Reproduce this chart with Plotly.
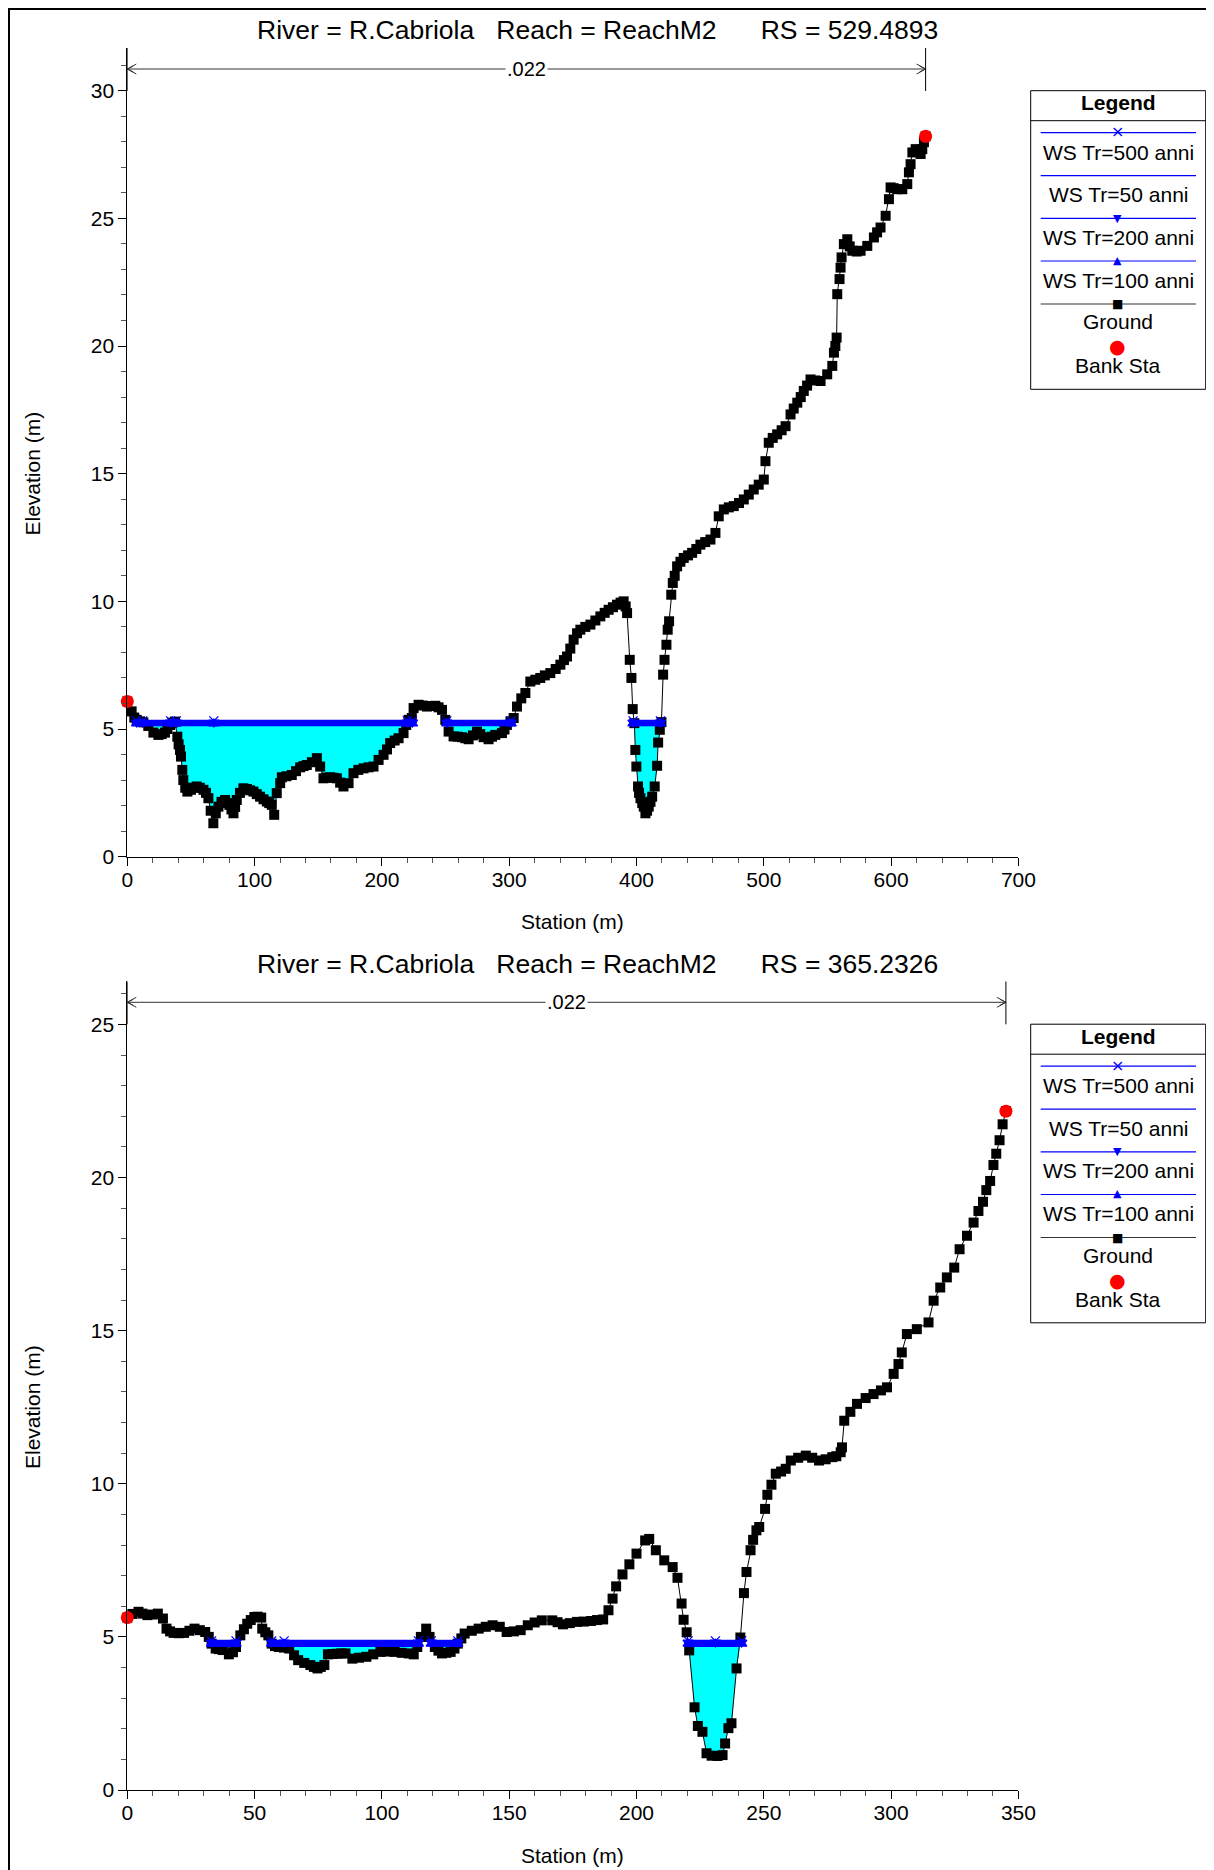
import numpy as np
import plotly.graph_objects as go

# ---------------- data ----------------
top_station = [0.0, 3.4, 5.5, 7.4, 10.0, 12.6, 16.5, 20.5, 24.4, 27.0, 29.6, 31.5, 33.6, 35.5, 37.5,
               39.3, 40.3, 41.4, 42.2, 43.2, 44.0, 45.5, 47.2, 50.0, 52.5, 54.5, 57.0, 59.8, 61.8, 63.7,
               65.5, 67.6, 69.5, 71.6, 74.0, 76.8, 78.5, 80.2, 81.8, 83.4, 84.7, 86.0, 88.5, 91.2, 94.0,
               96.5, 99.1, 101.7, 104.3, 107.0, 109.6, 111.5, 113.5, 115.4, 117.4, 120.1, 121.4, 125.0,
               129.2, 132.5, 135.8, 138.5, 141.0, 145.0, 148.9, 151.5, 154.1, 156.8, 159.4, 162.0, 164.6,
               167.2, 169.8, 173.8, 177.7, 181.5, 185.6, 189.5, 193.4, 197.4, 201.3, 204.0, 206.5, 210.0,
               213.1, 217.0, 219.1, 220.9, 223.5, 224.9, 228.8, 232.0, 235.4, 238.5, 241.9, 244.5, 247.2,
               249.8, 252.4, 256.3, 259.5, 262.9, 265.5, 268.1, 271.5, 274.7, 277.3, 279.9, 283.8, 286.5,
               289.1, 294.3, 296.3, 298.2, 301.0, 303.5, 306.1, 309.5, 312.7, 316.6, 320.5, 324.4, 328.0,
               332.3, 336.5, 340.2, 343.0, 345.4, 348.0, 350.6, 353.3, 355.9, 359.8, 363.8, 367.7, 371.6,
               375.0, 378.1, 381.5, 384.7, 387.5, 389.9, 391.5, 392.6, 394.7, 396.0, 397.0, 398.3, 399.1,
               399.9, 401.2, 402.0, 403.1, 404.5, 405.7, 407.0, 408.3, 409.6, 411.0, 412.3, 414.3, 416.2,
               417.0, 418.3, 419.6, 420.9, 422.0, 423.5, 424.5, 425.6, 427.3, 428.5, 430.0, 431.9, 434.5,
               437.1, 440.5, 443.7, 447.0, 450.2, 454.0, 458.1, 462.0, 464.6, 468.6, 472.5, 476.4, 480.5,
               484.3, 488.2, 492.1, 496.0, 500.0, 501.3, 503.9, 507.0, 510.5, 514.0, 517.1, 521.0, 523.5,
               526.3, 529.0, 531.4, 534.0, 536.7, 540.5, 544.6, 549.8, 553.8, 555.1, 556.2, 557.2, 557.7,
               559.5, 560.3, 561.1, 562.9, 565.6, 567.5, 569.5, 573.0, 576.0, 581.3, 586.5, 589.0, 591.7,
               595.7, 598.3, 599.6, 602.0, 604.9, 608.8, 612.7, 614.0, 615.3, 616.7, 619.3, 621.5, 623.2,
               624.5, 625.8, 627.1]
top_elev = [6.08, 5.69, 5.45, 5.36, 5.30, 5.26, 5.12, 4.86, 4.77, 4.80, 4.86, 5.00, 5.16, 5.25, 5.29,
            4.70, 4.40, 4.18, 3.92, 3.40, 3.00, 2.70, 2.55, 2.62, 2.70, 2.75, 2.70, 2.62, 2.50, 2.29,
            1.80, 1.31, 1.70, 1.96, 2.15, 2.22, 2.10, 2.03, 1.85, 1.70, 1.95, 2.22, 2.50, 2.68, 2.65,
            2.60, 2.55, 2.45, 2.35, 2.25, 2.16, 2.10, 2.03, 1.64, 2.49, 2.88, 3.11, 3.15,
            3.20, 3.35, 3.50, 3.55, 3.59, 3.70, 3.86, 3.53, 3.07, 3.10, 3.11, 3.09, 3.07,
            2.90, 2.75, 2.88, 3.27, 3.40, 3.46, 3.50, 3.53, 3.79, 3.99, 4.20, 4.45, 4.55,
            4.64, 4.84, 5.16, 5.36, 5.43, 5.82, 5.95, 5.92, 5.88, 5.90, 5.91, 5.85, 5.75,
            5.36, 4.90, 4.71, 4.70, 4.68, 4.64, 4.60, 4.75, 4.90, 4.80, 4.68, 4.60, 4.70,
            4.77, 4.84, 4.98, 5.16, 5.30, 5.43, 5.88, 6.20, 6.41, 6.86, 6.93, 7.00, 7.10,
            7.19, 7.35, 7.52, 7.70, 7.84, 8.15, 8.50, 8.75, 8.89, 9.00, 9.09, 9.25, 9.41,
            9.55, 9.67, 9.77, 9.87, 9.95, 10.00, 9.80, 9.54, 7.71, 7.00, 5.78, 5.23, 4.18,
            3.53, 2.75, 2.50, 2.29, 2.10, 1.96, 1.70, 1.80, 1.96, 2.15, 2.35, 2.75, 3.56,
            4.47, 4.97, 5.27, 7.13, 7.71, 8.30, 8.89, 9.22, 10.26, 10.72, 11.00, 11.37, 11.55,
            11.70, 11.80, 11.90, 12.05, 12.22, 12.32, 12.42, 12.68, 13.33, 13.60, 13.68, 13.73, 13.85,
            13.99, 14.18, 14.38, 14.57, 14.77, 15.49, 16.21, 16.40, 16.54, 16.70, 16.86, 17.32, 17.55,
            17.78, 18.00, 18.24, 18.45, 18.69, 18.65, 18.63, 18.89, 19.22, 19.74, 20.00, 20.33, 22.03,
            22.62, 23.07, 23.47, 23.99, 24.18, 23.90, 23.73, 23.70, 23.73, 23.92, 24.25, 24.45, 24.64,
            25.10, 25.75, 26.21, 26.18, 26.14, 26.14, 26.34, 26.80, 27.12, 27.58, 27.71, 27.60, 27.52,
            27.71, 27.98, 28.21]

bot_station = [0.0, 2.0, 4.4, 6.0, 7.9, 10.0, 12.0, 14.0, 15.4, 16.8, 18.2, 20.2, 22.3, 24.4, 26.4,
               28.5, 30.6, 32.0, 33.1, 34.7, 36.0, 37.5, 39.9, 41.5, 42.7, 44.4, 45.8, 47.1, 48.5, 49.9,
               51.2, 52.6, 53.0, 54.2, 55.4, 56.7, 58.0, 59.5, 61.5, 63.6, 65.5, 67.1, 69.5, 71.9, 73.3,
               74.7, 76.0, 77.4, 78.8, 80.5, 82.2, 84.0, 85.7, 88.4, 91.0, 93.9, 96.6, 99.4, 102.2,
               105.0, 107.8, 110.5, 112.5, 113.9, 115.3, 117.4, 118.7, 120.8, 122.2, 123.6, 125.3, 127.0,
               128.5, 129.8, 131.2, 132.5, 135.3, 138.0, 140.8, 143.5, 146.3, 149.0, 151.8, 154.5, 157.3,
               160.0, 162.8, 166.9, 169.0, 171.1, 173.8, 176.6, 179.3, 182.1, 184.5, 186.9, 189.0, 190.6,
               192.0, 194.5, 197.2, 200.0, 203.4, 205.0, 207.6, 210.9, 214.2, 216.1, 217.7, 218.5, 219.7,
               220.7, 222.8, 224.1, 225.9, 227.5, 229.5, 231.8, 233.8, 234.8, 236.1, 237.3, 239.3, 240.8,
               242.2, 243.2, 244.8, 245.8, 247.1, 248.2, 250.5, 251.4, 253.0, 254.7, 256.8, 258.6, 260.6,
               263.5, 266.5, 269.0, 271.7, 274.3, 276.9, 278.5, 280.2, 280.7, 281.6, 284.0, 286.6, 290.0,
               293.1, 296.0, 298.4, 301.0, 302.9, 304.2, 306.2, 310.1, 314.7, 316.7, 319.3, 321.9, 324.8,
               326.9, 329.8, 332.4, 334.3, 336.1, 337.4, 338.9, 340.2, 341.3, 342.6, 343.8, 345.1]
bot_elev = [5.63, 5.75, 5.82, 5.76, 5.71, 5.73, 5.76, 5.60, 5.27, 5.18, 5.13, 5.12, 5.13, 5.20, 5.27,
            5.22, 5.16, 5.00, 4.78, 4.62, 4.60, 4.57, 4.43, 4.50, 4.67, 5.05, 5.25, 5.43, 5.55, 5.65,
            5.66, 5.63, 5.27, 5.15, 5.05, 4.78, 4.70, 4.67, 4.65, 4.62, 4.40, 4.24, 4.15, 4.08, 4.02,
            3.97, 4.02, 4.08, 4.43, 4.44, 4.45, 4.46, 4.46, 4.29, 4.32, 4.35, 4.43, 4.51, 4.52,
            4.51, 4.48, 4.46, 4.43, 4.67, 5.00, 5.27, 5.00, 4.67, 4.55, 4.46, 4.48, 4.51,
            4.62, 4.78, 4.95, 5.11, 5.20, 5.27, 5.33, 5.38, 5.33, 5.16, 5.18, 5.22, 5.38,
            5.47, 5.54, 5.54, 5.48, 5.41, 5.45, 5.49, 5.50, 5.52, 5.55, 5.57, 5.87, 6.25,
            6.65, 7.04, 7.37, 7.72, 8.15, 8.20, 7.83, 7.50, 7.28, 6.93, 6.09, 5.56, 5.15,
            4.56, 2.70, 2.09, 1.90, 1.20, 1.12, 1.11, 1.14, 1.52, 2.02, 2.18, 3.97, 4.98,
            6.43, 7.12, 7.83, 8.17, 8.48, 8.59, 9.18, 9.64, 9.97, 10.33, 10.40, 10.49, 10.76,
            10.85, 10.92, 10.85, 10.76, 10.80, 10.87, 10.90, 11.03, 11.19, 12.06, 12.35, 12.61, 12.80,
            12.93, 13.05, 13.15, 13.59, 13.91, 14.29, 14.89, 15.05, 15.27, 15.98, 16.41, 16.74, 17.06,
            17.66, 18.10, 18.53, 18.91, 19.21, 19.59, 19.89, 20.41, 20.78, 21.22, 21.74, 22.17]

top_bank_station = [0.0, 627.1]
top_bank_elev = [6.08, 28.21]
bot_bank_station = [0.0, 345.1]
bot_bank_elev = [5.63, 22.17]

ws_names = ["WS Tr=500 anni", "WS Tr=50 anni", "WS Tr=200 anni", "WS Tr=100 anni"]
top_ws_elev = [5.32, 5.15, 5.26, 5.21]
bot_ws_elev = [4.87, 4.71, 4.82, 4.77]
top_ws_extents = [(7.4, 222.0), (251.0, 301.5), (397.3, 418.8)]
bot_ws_extents = [(33.1, 42.7), (56.7, 114.3), (119.4, 129.8), (220.3, 241.3)]
top_ws_marker_sta = [7.4, 12.0, 34.0, 38.5, 68.0, 220.0, 224.0, 251.0, 301.5, 397.3, 418.8]
bot_ws_marker_sta = [33.1, 42.7, 56.7, 61.6, 114.3, 119.4, 129.8, 220.3, 231.0, 241.3]

top_title = "River = R.Cabriola\u00a0\u00a0\u00a0Reach = ReachM2\u00a0\u00a0\u00a0\u00a0\u00a0\u00a0RS = 529.4893"
bot_title = "River = R.Cabriola\u00a0\u00a0\u00a0Reach = ReachM2\u00a0\u00a0\u00a0\u00a0\u00a0\u00a0RS = 365.2326"
manning_n = ".022"
legend_labels = ws_names + ["Ground", "Bank Sta"]
x_title = "Station (m)"
y_title = "Elevation (m)"

# ---------------- layout helpers ----------------
FW, FH, OFF = 1198, 1862, 8
FONT = "Liberation Sans, Arial, Helvetica, sans-serif"


def px(X):
    return (X - OFF) / FW


def py(Y):
    return 1 - (Y - OFF) / FH


WS_SYMBOLS = ["x-thin-open", None, "triangle-down", "triangle-up"]
BLUE = "#0000ff"

fig = go.Figure()

plots = [
    dict(st=top_station, el=top_elev, bst=top_bank_station, bel=top_bank_elev, ws=top_ws_elev,
         ext=top_ws_extents, mk=top_ws_marker_sta, xa="x", ya="y", title=top_title,
         xr=[0, 700], yr=[0, 31.67], d=0.0),
    dict(st=bot_station, el=bot_elev, bst=bot_bank_station, bel=bot_bank_elev, ws=bot_ws_elev,
         ext=bot_ws_extents, mk=bot_ws_marker_sta, xa="x2", ya="y2", title=bot_title,
         xr=[0, 350], yr=[0, 26.41], d=933.5),
]

shapes = []
annotations = []


def ann(X, Y, text, size=21, color="black", family=FONT, angle=0):
    annotations.append(dict(x=px(X), y=py(Y), xref="paper", yref="paper", text=text,
                            showarrow=False, xanchor="center", yanchor="middle", textangle=angle,
                            font=dict(family=family, size=size, color=color)))


for p in plots:
    st = np.array(p["st"], float)
    el = np.array(p["el"], float)
    ws_fill = min(p["ws"])
    # cyan fill between water surface and ground
    for a, b in p["ext"]:
        inner = st[(st > a) & (st < b)]
        xs = np.concatenate([[a], inner, [b]])
        gy = np.minimum(np.interp(xs, st, el), ws_fill)
        fig.add_trace(go.Scatter(
            x=np.concatenate([xs, xs[::-1]]),
            y=np.concatenate([np.full(len(xs), ws_fill), gy[::-1]]),
            fill="toself", fillcolor="#00ffff", line=dict(width=0), mode="lines",
            hoverinfo="skip", showlegend=False, xaxis=p["xa"], yaxis=p["ya"]))
    # ground
    fig.add_trace(go.Scatter(
        x=st, y=el, mode="lines+markers", name="Ground", cliponaxis=False,
        line=dict(color="black", width=1),
        marker=dict(symbol="square", size=10, color="black"),
        showlegend=False, xaxis=p["xa"], yaxis=p["ya"]))
    # water surfaces
    for name, wsv, sym in zip(ws_names, p["ws"], WS_SYMBOLS):
        xs, ys = [], []
        for a, b in p["ext"]:
            xs += [a, b, None]
            ys += [wsv, wsv, None]
        fig.add_trace(go.Scatter(
            x=xs, y=ys, mode="lines", name=name, line=dict(color=BLUE, width=2.2),
            showlegend=False, xaxis=p["xa"], yaxis=p["ya"]))
        if sym:
            fig.add_trace(go.Scatter(
                x=p["mk"], y=[wsv] * len(p["mk"]), mode="markers", name=name,
                marker=dict(symbol=sym, size=9, color=BLUE, line=dict(color=BLUE, width=1.3)),
                showlegend=False, xaxis=p["xa"], yaxis=p["ya"]))
    # bank stations
    fig.add_trace(go.Scatter(
        x=p["bst"], y=p["bel"], mode="markers", name="Bank Sta", cliponaxis=False,
        marker=dict(symbol="circle", size=13, color="#ff0000"),
        showlegend=False, xaxis=p["xa"], yaxis=p["ya"]))

    d = p["d"]
    ytop = p["yr"][1]
    ppm = 808.7 / ytop  # pixels per metre
    arrow_y = (856.7 - 69.0) / ppm
    vline_bottom = (856.7 - 91.0) / ppm
    # Manning n arrow
    shapes.append(dict(type="line", xref=p["xa"], yref=p["ya"], x0=p["bst"][0], x1=p["bst"][1],
                       y0=arrow_y, y1=arrow_y, line=dict(color="#333333", width=1)))
    for xb, sgn in [(p["bst"][0], 1), (p["bst"][1], -1)]:
        shapes.append(dict(type="path", xref=p["xa"], yref=p["ya"], xsizemode="pixel",
                           ysizemode="pixel", xanchor=xb, yanchor=arrow_y,
                           path=f"M {sgn*9},5 L 0,0 L {sgn*9},-5 M {sgn*6},3 L 0,0 L {sgn*6},-3",
                           line=dict(color="#333333", width=1)))
        shapes.append(dict(type="line", xref=p["xa"], yref=p["ya"], x0=xb, x1=xb,
                           y0=vline_bottom, y1=ytop, line=dict(color="black", width=1)))
    annotations.append(dict(x=(p["bst"][0] + p["bst"][1]) / 2, y=arrow_y, xref=p["xa"], yref=p["ya"],
                            text=manning_n, showarrow=False, bgcolor="white", borderpad=1,
                            xanchor="center", yanchor="middle",
                            font=dict(family=FONT, size=20, color="black")))
    # title and axis titles
    ann(597, 30 + d, p["title"], size=26.5)
    ann(572.5, 922 + d, x_title)
    ann(32, 473.5 + d, y_title, angle=-90)
    # legend box
    L, R = 1030.7, 1205.7
    shapes.append(dict(type="rect", xref="paper", yref="paper", x0=px(L), x1=px(R),
                       y0=py(90.7 + d), y1=py(389.3 + d), line=dict(color="black", width=1),
                       fillcolor="white", layer="below"))
    shapes.append(dict(type="line", xref="paper", yref="paper", x0=px(L), x1=px(R),
                       y0=py(120.7 + d), y1=py(120.7 + d), line=dict(color="black", width=1)))
    ann(1118.3, 103 + d, "<b>Legend</b>")
    line_y = [132.7, 175.7, 218.3, 261.0, 304.0]
    line_c = [BLUE, BLUE, BLUE, BLUE, "#333333"]
    text_y = [152, 194.5, 237, 280, 322, 365.5]
    for yy, cc in zip(line_y, line_c):
        shapes.append(dict(type="line", xref="paper", yref="paper", x0=px(1040.7), x1=px(1196),
                           y0=py(yy + d), y1=py(yy + d), line=dict(color=cc, width=1.2)))
    for lab, yy in zip(legend_labels, text_y):
        ann(1118.3, yy + d, lab)
    glyphs = [("\u00d7", 132.7 - 1, BLUE, 16), ("\u25bc", 218.3, BLUE, 11),
              ("\u25b2", 261.0 - 1, BLUE, 11), ("\u25a0", 304.0, "black", 12),
              ("\u25cf", 346.0, "#ff0000", 19)]
    for g, yy, cc, ss in glyphs:
        ann(1117.7, yy + d, g, size=ss, color=cc, family="DejaVu Sans")

# outer frame (top and left)
shapes.append(dict(type="line", xref="paper", yref="paper", x0=px(7), x1=px(1300),
                   y0=py(8.5), y1=py(8.5), line=dict(color="black", width=3)))
shapes.append(dict(type="line", xref="paper", yref="paper", x0=px(8.5), x1=px(8.5),
                   y0=py(7), y1=py(2000), line=dict(color="black", width=3)))


def xaxis(dom_anchor, rng, dt, mdt):
    return dict(domain=[px(127.3), px(1018.4)], range=rng, anchor=dom_anchor, automargin=False,
                showline=True, linecolor="black", linewidth=1, ticks="outside", ticklen=8,
                tickwidth=1, tickcolor="black", dtick=dt, tick0=0, showgrid=False, zeroline=False,
                ticklabelstandoff=-4,
                tickfont=dict(family=FONT, size=21, color="black"),
                minor=dict(dtick=mdt, tick0=0, ticks="outside", ticklen=5, tickcolor="#555555",
                           showgrid=False))


def yaxis(dom, dom_anchor, rng):
    return dict(domain=dom, range=rng, anchor=dom_anchor, automargin=False,
                showline=True, linecolor="black", linewidth=1, ticks="outside", ticklen=8,
                tickwidth=1, tickcolor="black", dtick=5, tick0=0, showgrid=False, zeroline=False,
                tickfont=dict(family=FONT, size=21, color="black"),
                minor=dict(dtick=1, tick0=0, ticks="outside", ticklen=5, tickcolor="#555555",
                           showgrid=False))


fig.update_layout(
    width=FW, height=FH, margin=dict(l=0, r=0, t=0, b=0, pad=0, autoexpand=False),
    paper_bgcolor="white", plot_bgcolor="white", showlegend=False,
    xaxis=xaxis("y", plots[0]["xr"], 100, 20),
    yaxis=yaxis([py(856.7), py(48)], "x", plots[0]["yr"]),
    xaxis2=xaxis("y2", plots[1]["xr"], 50, 10),
    yaxis2=yaxis([py(1790), py(981.3)], "x2", plots[1]["yr"]),
    shapes=shapes, annotations=annotations,
)

fig.write_html("out.html")
